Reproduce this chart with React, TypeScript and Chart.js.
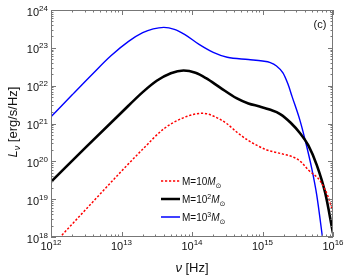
import { useEffect, useRef } from "react";
import { Chart, registerables } from "chart.js";
Chart.register(...registerables);

// M = 10 Msun (red dashed)
const redNu = [1e12, 1.35e12, 3.16e12, 1e13, 2.0e13, 3.98e13, 7.08e13, 1.12e14, 1.45e14, 2.0e14, 3.09e14, 4.47e14, 6.31e14, 1.15e15, 1.78e15, 2.82e15, 3.55e15, 4.47e15, 6.61e15, 8.51e15, 1e16];
const redL = [5.5e17, 1e18, 5.5e18, 5.5e19, 2.09e20, 7.24e20, 1.35e21, 1.78e21, 1.86e21, 1.58e21, 1e21, 5.62e20, 3.55e20, 2.0e20, 1.62e20, 1.26e20, 9.5e19, 5.9e19, 3.0e19, 1.17e19, 4.5e18];
// M = 10^2 Msun (black)
const blackNu = [1e12, 3.16e12, 1e13, 2.0e13, 3.16e13, 5.01e13, 7.59e13, 1.12e14, 1.58e14, 2.51e14, 4.27e14, 6.31e14, 9.12e14, 1.26e15, 1.78e15, 2.51e15, 3.39e15, 4.47e15, 5.89e15, 7.76e15, 1e16];
const blackL = [2.88e19, 2.4e20, 1.95e21, 6.76e21, 1.35e22, 2.14e22, 2.51e22, 2.19e22, 1.58e22, 8.91e21, 4.68e21, 3.39e21, 2.82e21, 2.34e21, 1.78e21, 1.05e21, 5.62e20, 2.63e20, 7.94e19, 1.45e19, 1.26e18];
// M = 10^3 Msun (blue)
const blueNu = [1e12, 2.0e12, 3.98e12, 7.08e12, 1.26e13, 2.0e13, 2.82e13, 3.98e13, 5.62e13, 7.94e13, 1.26e14, 2.0e14, 3.16e14, 6.31e14, 1e15, 1.29e15, 1.58e15, 1.95e15, 2.29e15, 2.63e15, 3.39e15, 3.98e15, 5.01e15, 5.89e15, 7.08e15, 7.94e15];
const blueL = [1.5e21, 5.75e21, 2.14e22, 6.17e22, 1.48e23, 2.51e23, 3.16e23, 3.47e23, 3.09e23, 2.24e23, 1.23e23, 7.59e22, 5.62e22, 4.9e22, 4.47e22, 4.07e22, 3.31e22, 2.19e22, 1.12e22, 5.13e21, 1.23e21, 3.98e20, 6.31e19, 1.26e19, 1e18, 2e17];

const xTickExps = ["12", "13", "14", "15", "16"];
const yTickExps = ["18", "19", "20", "21", "22", "23", "24"];
const legendExps = ["", "2", "3"];
const panelLabel = "(c)";

const FONT = "'Liberation Sans', Arial, Helvetica, sans-serif";

function pts(xs: number[], ys: number[]) {
  return xs.map((x, i) => ({ x, y: ys[i] }));
}

const decorPlugin = {
  id: "decor",
  afterDraw(chart: any) {
    const ctx: CanvasRenderingContext2D = chart.ctx;
    const { left, right, top, bottom } = chart.chartArea;
    const xs = chart.scales.x;
    const ys = chart.scales.y;
    ctx.save();
    ctx.strokeStyle = "#777";
    ctx.lineWidth = 1;
    ctx.strokeRect(left + 0.5, top + 0.5, right - left - 1, bottom - top - 1);
    ctx.beginPath();
    const xMin = 12, xMax = 16, yMin = 18, yMax = 24;
    for (let e = xMin; e <= xMax; e++) {
      for (let m = 1; m <= 9; m++) {
        if (e === xMax && m > 1) break;
        const v = m * Math.pow(10, e);
        const px = Math.round(xs.getPixelForValue(v)) + 0.5;
        const len = m === 1 ? 5 : 2.5;
        ctx.moveTo(px, bottom);
        ctx.lineTo(px, bottom - len);
        ctx.moveTo(px, top);
        ctx.lineTo(px, top + len);
      }
    }
    for (let e = yMin; e <= yMax; e++) {
      for (let m = 1; m <= 9; m++) {
        if (e === yMax && m > 1) break;
        const v = m * Math.pow(10, e);
        const py = Math.round(ys.getPixelForValue(v)) + 0.5;
        const len = m === 1 ? 5 : 2.5;
        ctx.moveTo(left, py);
        ctx.lineTo(left + len, py);
        ctx.moveTo(right, py);
        ctx.lineTo(right - len, py);
      }
    }
    ctx.stroke();

    ctx.fillStyle = "#111";
    ctx.textBaseline = "alphabetic";
    const baseFont = `11px ${FONT}`;
    const expFont = `8px ${FONT}`;
    xTickExps.forEach((ex) => {
      const px = xs.getPixelForValue(Math.pow(10, Number(ex)));
      ctx.font = baseFont;
      const w1 = ctx.measureText("10").width;
      ctx.font = expFont;
      const w2 = ctx.measureText(ex).width;
      const x0 = px - (w1 + w2) / 2;
      ctx.textAlign = "left";
      ctx.font = baseFont;
      ctx.fillText("10", x0, 250);
      ctx.font = expFont;
      ctx.fillText(ex, x0 + w1, 244.5);
    });
    yTickExps.forEach((ex) => {
      const py = ys.getPixelForValue(Math.pow(10, Number(ex)));
      ctx.font = expFont;
      const w2 = ctx.measureText(ex).width;
      ctx.textAlign = "left";
      const xr = 48;
      ctx.fillText(ex, xr - w2, py + 0.5);
      ctx.font = baseFont;
      const w1 = ctx.measureText("10").width;
      ctx.fillText("10", xr - w2 - w1, py + 5.5);
    });

    {
      ctx.font = `italic 13px ${FONT}`;
      const a = "ν";
      const wa = ctx.measureText(a).width;
      ctx.font = `13px ${FONT}`;
      const b = " [Hz]";
      const wb = ctx.measureText(b).width;
      const x0 = 192 - (wa + wb) / 2;
      ctx.textAlign = "left";
      ctx.font = `italic 13px ${FONT}`;
      ctx.fillText(a, x0, 272);
      ctx.font = `13px ${FONT}`;
      ctx.fillText(b, x0 + wa, 272);
    }
    {
      ctx.save();
      ctx.translate(17, 122);
      ctx.rotate(-Math.PI / 2);
      ctx.textAlign = "left";
      ctx.font = `italic 13px ${FONT}`;
      const wL = ctx.measureText("L").width;
      ctx.font = `italic 9px ${FONT}`;
      const wn = ctx.measureText("ν").width;
      ctx.font = `13px ${FONT}`;
      const rest = " [erg/s/Hz]";
      const wr = ctx.measureText(rest).width;
      const x0 = -(wL + wn + wr) / 2;
      ctx.font = `italic 13px ${FONT}`;
      ctx.fillText("L", x0, 0);
      ctx.font = `italic 9px ${FONT}`;
      ctx.fillText("ν", x0 + wL, 3);
      ctx.font = `13px ${FONT}`;
      ctx.fillText(rest, x0 + wL + wn, 0);
      ctx.restore();
    }

    const colors = ["#ff0000", "#000000", "#0000ff"];
    const widths = [1.5, 2.5, 1.5];
    const ly = [181, 199, 217];
    for (let i = 0; i < 3; i++) {
      ctx.save();
      ctx.strokeStyle = colors[i];
      ctx.lineWidth = widths[i];
      ctx.setLineDash(i === 0 ? [2.2, 1.8] : []);
      ctx.beginPath();
      ctx.moveTo(161, ly[i]);
      ctx.lineTo(180, ly[i]);
      ctx.stroke();
      ctx.restore();
      let x = 182;
      const bl = ly[i] + 4;
      ctx.fillStyle = "#111";
      ctx.textAlign = "left";
      ctx.font = `10px ${FONT}`;
      ctx.fillText("M=10", x, bl);
      x += ctx.measureText("M=10").width;
      if (legendExps[i]) {
        ctx.font = `7px ${FONT}`;
        ctx.fillText(legendExps[i], x, bl - 4);
        x += ctx.measureText(legendExps[i]).width;
      }
      ctx.font = `italic 10px ${FONT}`;
      ctx.fillText("M", x, bl);
      x += ctx.measureText("M").width;
      ctx.font = `7px 'DejaVu Sans', ${FONT}`;
      ctx.fillText("⊙", x, bl + 3);
    }

    ctx.font = `11px ${FONT}`;
    ctx.textAlign = "center";
    ctx.fillStyle = "#111";
    ctx.fillText(panelLabel, 320, 28);
    ctx.restore();
  },
};

export default function App() {
  const ref = useRef<HTMLCanvasElement>(null);
  useEffect(() => {
    const canvas = ref.current;
    if (!canvas) return;
    const chart = new Chart(canvas, {
      type: "line",
      data: {
        datasets: [
          {
            label: "M=10",
            data: pts(redNu, redL),
            borderColor: "#ff0000",
            borderWidth: 1.5,
            borderDash: [2.2, 1.8],
            pointRadius: 0,
            cubicInterpolationMode: "monotone",
            fill: false,
          },
          {
            label: "M=10^2",
            data: pts(blackNu, blackL),
            borderColor: "#000000",
            borderWidth: 2.6,
            pointRadius: 0,
            cubicInterpolationMode: "monotone",
            fill: false,
          },
          {
            label: "M=10^3",
            data: pts(blueNu, blueL),
            borderColor: "#0000ff",
            borderWidth: 1.4,
            pointRadius: 0,
            cubicInterpolationMode: "monotone",
            fill: false,
          },
        ],
      },
      options: {
        responsive: false,
        animation: false,
        devicePixelRatio: 1,
        layout: { padding: { left: 51, right: 15, top: 10, bottom: 42 } },
        plugins: { legend: { display: false }, tooltip: { enabled: false } },
        scales: {
          x: { type: "logarithmic", min: 1e12, max: 1e16, display: false },
          y: { type: "logarithmic", min: 1e18, max: 1e24, display: false },
        },
      },
      plugins: [decorPlugin],
    } as any);
    return () => chart.destroy();
  }, []);
  return (
    <div style={{ position: "fixed", left: 0, top: 0, width: 348, height: 279, background: "#fff" }}>
      <canvas ref={ref} width={348} height={279} style={{ width: 348, height: 279, display: "block" }} />
    </div>
  );
}
